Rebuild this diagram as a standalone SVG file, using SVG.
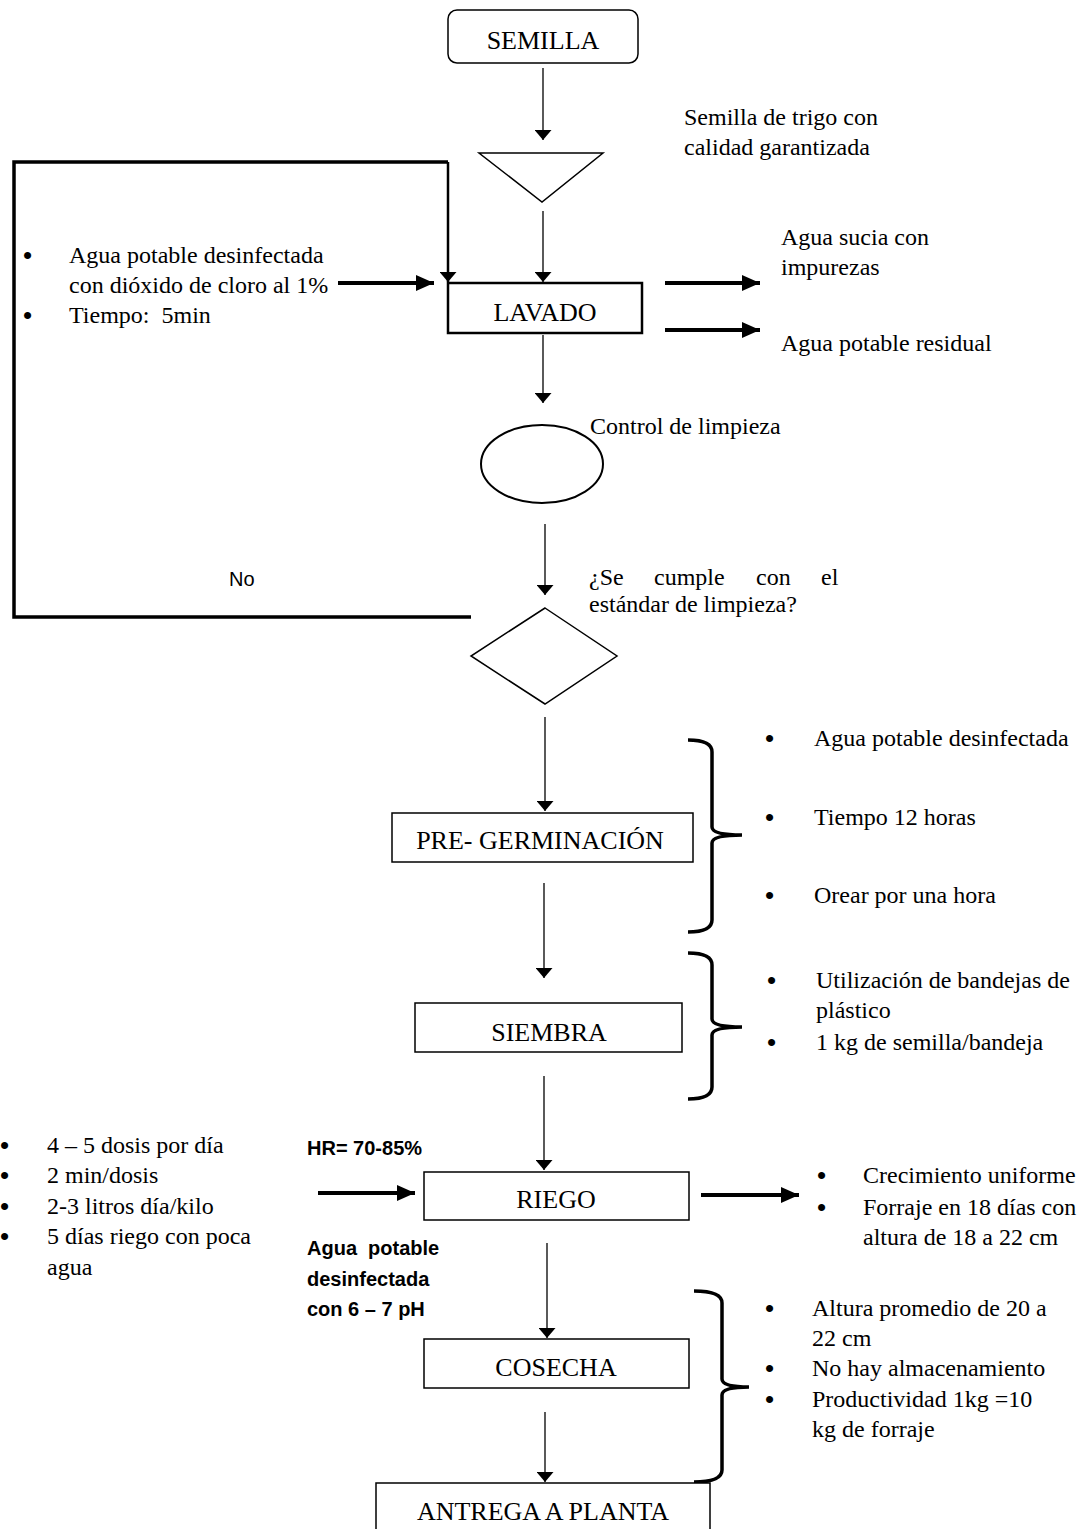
<svg xmlns="http://www.w3.org/2000/svg" width="1084" height="1529" viewBox="0 0 1084 1529">
<defs>
<style>
.t{font-family:"Liberation Serif","Times New Roman",serif;font-size:24px;fill:#000}
.u{font-family:"Liberation Sans",Arial,sans-serif;font-size:26px;fill:#000}
.lb{font-family:"Liberation Serif","Times New Roman",serif;font-size:26px;fill:#000;text-anchor:middle}
.b{font-family:"Liberation Sans",Arial,sans-serif;font-size:20px;font-weight:bold;fill:#000}
.s{font-family:"Liberation Sans",Arial,sans-serif;font-size:20px;fill:#000}
.box{fill:#fff;stroke:#000;stroke-width:1.5}
.thin{stroke:#000;stroke-width:1.3;fill:none;marker-end:url(#ah)}
.thick{stroke:#000;stroke-width:4;fill:none;marker-end:url(#ahk)}
.brace{stroke:#000;stroke-width:3.5;fill:none}
.loop{stroke:#000;stroke-width:3.5;fill:none}
</style>
<marker id="ah" viewBox="0 0 10 10" refX="10" refY="5" markerWidth="10" markerHeight="17" markerUnits="userSpaceOnUse" orient="auto" preserveAspectRatio="none">
<path d="M0,0 L10,5 L0,10 z" fill="#000"/>
</marker>
<marker id="ahk" viewBox="0 0 10 10" refX="10" refY="5" markerWidth="18" markerHeight="16" markerUnits="userSpaceOnUse" orient="auto" preserveAspectRatio="none">
<path d="M0,0 L10,5 L0,10 z" fill="#000"/>
</marker>
</defs>
<rect width="1084" height="1529" fill="#fff"/>

<g id="connectors">
<line class="thin" x1="543" y1="68" x2="543" y2="140"/>
<line class="thin" x1="543" y1="211" x2="543" y2="282"/>
<line class="thin" x1="543" y1="335" x2="543" y2="403"/>
<line class="thin" x1="545" y1="524" x2="545" y2="595"/>
<line class="thin" x1="545" y1="717" x2="545" y2="811"/>
<line class="thin" x1="544" y1="883" x2="544" y2="978"/>
<line class="thin" x1="544" y1="1076" x2="544" y2="1170"/>
<line class="thin" x1="547" y1="1243" x2="547" y2="1338"/>
<line class="thin" x1="545" y1="1412" x2="545" y2="1482"/>
<path class="loop" d="M471,617 L14,617 L14,162 L448,162"/>
<line class="thin" x1="448" y1="162" x2="448" y2="282" style="stroke-width:2.5"/>
<line class="thick" x1="338" y1="283" x2="434" y2="283"/>
<line class="thick" x1="665" y1="283" x2="760" y2="283"/>
<line class="thick" x1="665" y1="330" x2="760" y2="330"/>
<line class="thick" x1="318" y1="1193" x2="415" y2="1193"/>
<line class="thick" x1="701" y1="1195" x2="799" y2="1195"/>
<text class="s" x="229" y="586">No</text>
</g>

<g id="semilla">
<rect x="448" y="10" width="190" height="53" rx="9" class="box"/>
<text class="lb" x="543" y="49">SEMILLA</text>
</g>

<g id="almacen">
<path d="M479,153 L603,153 L542,202 z" class="box"/>
<text class="t" x="684" y="125">Semilla de trigo con</text>
<text class="t" x="684" y="155">calidad garantizada</text>
</g>

<g id="lavado">
<rect x="448" y="283" width="194" height="50" class="box" style="stroke-width:2.5"/>
<text class="lb" x="545" y="321">LAVADO</text>
<text class="u" x="23" y="264">•</text>
<text class="t" x="69" y="263">Agua potable desinfectada</text>
<text class="t" x="69" y="293">con dióxido de cloro al 1%</text>
<text class="u" x="23" y="324">•</text>
<text class="t" x="69" y="323" xml:space="preserve" style="white-space:pre">Tiempo:  5min</text>
<text class="t" x="781" y="245">Agua sucia con</text>
<text class="t" x="781" y="275">impurezas</text>
<text class="t" x="781" y="351">Agua potable residual</text>
</g>

<g id="control">
<ellipse cx="542" cy="464" rx="61" ry="39" class="box" style="stroke-width:2"/>
<text class="t" x="590" y="434">Control de limpieza</text>
</g>

<g id="decision">
<path d="M545,608 L617,656 L545,704 L471,656 z" class="box"/>
<text class="t" y="585"><tspan x="589">¿Se</tspan><tspan x="654">cumple</tspan><tspan x="756">con</tspan><tspan x="821">el</tspan></text>
<text class="t" x="589" y="612">estándar de limpieza?</text>
</g>

<g id="pregerminacion">
<rect x="392" y="813" width="301" height="49" class="box"/>
<text class="lb" x="540" y="849">PRE- GERMINACIÓN</text>
<path class="brace" d="M688,740 Q712,740 712,752 L712,827 Q712,835 742,835 Q712,835 712,843 L712,920 Q712,932 688,932"/>
<text class="u" x="765" y="747">•</text>
<text class="t" x="814" y="746">Agua potable desinfectada</text>
<text class="u" x="765" y="826">•</text>
<text class="t" x="814" y="825">Tiempo 12 horas</text>
<text class="u" x="765" y="904">•</text>
<text class="t" x="814" y="903">Orear por una hora</text>
</g>

<g id="siembra">
<rect x="415" y="1003" width="267" height="49" class="box"/>
<text class="lb" x="549" y="1041">SIEMBRA</text>
<path class="brace" d="M688,953 Q712,953 712,965 L712,1019 Q712,1027 742,1027 Q712,1027 712,1035 L712,1087 Q712,1099 688,1099"/>
<text class="u" x="767" y="989">•</text>
<text class="t" x="816" y="988">Utilización de bandejas de</text>
<text class="t" x="816" y="1018">plástico</text>
<text class="u" x="767" y="1051">•</text>
<text class="t" x="816" y="1050">1 kg de semilla/bandeja</text>
</g>

<g id="riego">
<rect x="424" y="1172" width="265" height="48" class="box"/>
<text class="lb" x="556" y="1208">RIEGO</text>
<text class="u" x="0" y="1154">•</text>
<text class="t" x="47" y="1153">4 – 5 dosis por día</text>
<text class="u" x="0" y="1184">•</text>
<text class="t" x="47" y="1183">2 min/dosis</text>
<text class="u" x="0" y="1215">•</text>
<text class="t" x="47" y="1214">2-3 litros día/kilo</text>
<text class="u" x="0" y="1245">•</text>
<text class="t" x="47" y="1244">5 días riego con poca</text>
<text class="t" x="47" y="1275">agua</text>
<text class="b" x="307" y="1155">HR= 70-85%</text>
<text class="b" x="307" y="1255" style="white-space:pre" xml:space="preserve">Agua  potable</text>
<text class="b" x="307" y="1286">desinfectada</text>
<text class="b" x="307" y="1316">con 6 – 7 pH</text>
<text class="u" x="817" y="1184">•</text>
<text class="t" x="863" y="1183">Crecimiento uniforme</text>
<text class="u" x="817" y="1216">•</text>
<text class="t" x="863" y="1215">Forraje en 18 días con</text>
<text class="t" x="863" y="1245">altura de 18 a 22 cm</text>
</g>

<g id="cosecha">
<rect x="424" y="1339" width="265" height="49" class="box"/>
<text class="lb" x="556" y="1376">COSECHA</text>
<path class="brace" d="M694,1291 Q722,1291 722,1303 L722,1379 Q722,1387 749,1387 Q722,1387 722,1395 L722,1470 Q722,1482 694,1482"/>
<text class="u" x="765" y="1317">•</text>
<text class="t" x="812" y="1316">Altura promedio de 20 a</text>
<text class="t" x="812" y="1346">22 cm</text>
<text class="u" x="765" y="1377">•</text>
<text class="t" x="812" y="1376">No hay almacenamiento</text>
<text class="u" x="765" y="1408">•</text>
<text class="t" x="812" y="1407">Productividad 1kg =10</text>
<text class="t" x="812" y="1437">kg de forraje</text>
</g>

<g id="entrega">
<rect x="376" y="1483" width="334" height="70" class="box"/>
<text class="lb" x="543" y="1520">ANTREGA A PLANTA</text>
</g>
</svg>
